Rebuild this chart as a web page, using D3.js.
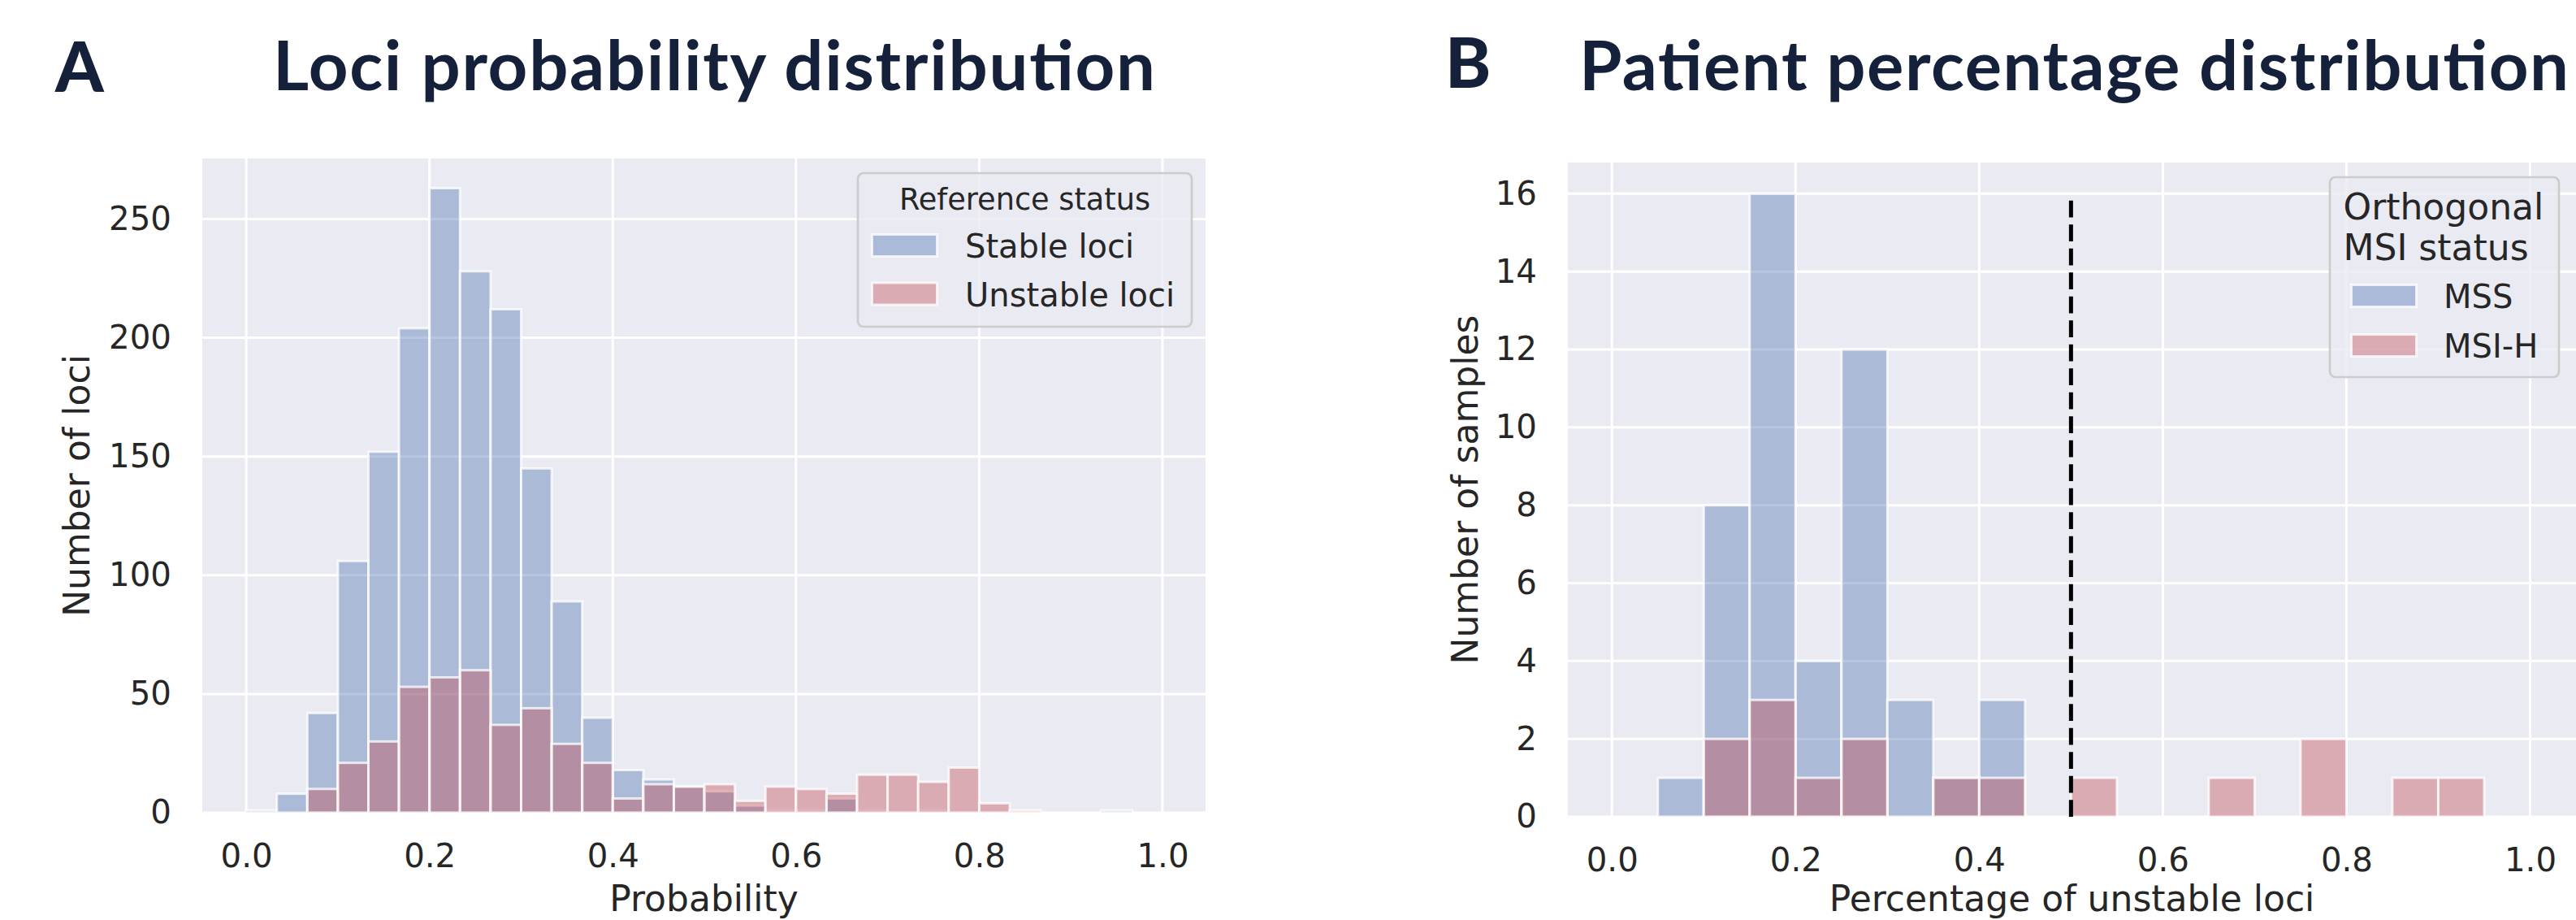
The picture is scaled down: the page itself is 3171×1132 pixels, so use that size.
<!DOCTYPE html>
<html>
<head>
<meta charset="utf-8">
<script src="https://cdn.jsdelivr.net/npm/d3@7"></script>
<style>
  body { margin: 0; background: #fff; }
  svg { display: block; }
</style>
</head>
<body>
<div id="chart"></div>
<script>
// loci histogram, 30 bins on [0, 1]
var lociBins = 30
var stableLoci = [1, 8, 42, 106, 152, 204, 263, 228, 212, 145, 89, 40, 18, 14, 11,
                  9, 3, 1, 1, 6, 1, 0, 1, 0, 0, 0, 0, 0, 1, 0]
var unstableLoci = [0, 0, 10, 21, 30, 53, 57, 60, 37, 44, 29, 21, 6, 12, 11,
                    12, 5, 11, 10, 8, 16, 16, 13, 19, 4, 1, 0, 0, 0, 0]

// patient histogram, 20 bins on [0, 1]
var patientBins = 20
var mssCounts  = [0, 1, 8, 16, 4, 12, 3, 1, 3, 0, 0, 0, 0, 0, 0, 0, 0, 0, 0, 0]
var msiHCounts = [0, 0, 2, 3, 1, 2, 0, 1, 1, 0, 1, 0, 0, 1, 0, 2, 0, 1, 1, 0]

var xTickValues = [0, 0.2, 0.4, 0.6, 0.8, 1.0]
var lociYTicks = [0, 50, 100, 150, 200, 250]
var sampleYTicks = [0, 2, 4, 6, 8, 10, 12, 14, 16]
var threshold = 0.5

var W = 3171, H = 1132
var bg = "#eaeaf2"
var blue = "#4c72b0", red = "#c44e52"
var ink = "#262626"
var tickFont = 40.3, labelFont = 44

var svg = d3.select("#chart").append("svg")
  .attr("width", W)
  .attr("height", H)
  .style("font-family", "'DejaVu Sans', sans-serif")

function toBins(counts, n) {
  return counts.map((c, i) => ({x0: i / n, x1: (i + 1) / n, count: c}))
}

function panel(opt) {
  var x = d3.scaleLinear().domain(opt.xDomain).range([opt.left, opt.right])
  var y = d3.scaleLinear().domain(opt.yDomain).range([opt.bottom, opt.top])
  var g = svg.append("g")

  g.append("rect")
    .attr("x", opt.left).attr("y", opt.top)
    .attr("width", opt.right - opt.left).attr("height", opt.bottom - opt.top)
    .attr("fill", bg)

  // grid
  g.append("g").selectAll("line").data(xTickValues).join("line")
    .attr("x1", d => x(d)).attr("x2", d => x(d))
    .attr("y1", opt.top).attr("y2", opt.bottom)
    .attr("stroke", "#fff").attr("stroke-width", 3)
  g.append("g").selectAll("line").data(opt.yTicks).join("line")
    .attr("x1", opt.left).attr("x2", opt.right)
    .attr("y1", d => y(d)).attr("y2", d => y(d))
    .attr("stroke", "#fff").attr("stroke-width", 3)

  // bars, first series under second
  opt.series.forEach(function(s) {
    g.append("g").selectAll("rect").data(toBins(s.counts, opt.bins)).join("rect")
      .attr("x", d => x(d.x0))
      .attr("width", d => x(d.x1) - x(d.x0))
      .attr("y", d => y(d.count))
      .attr("height", d => y(0) - y(d.count))
      .attr("fill", s.color).attr("fill-opacity", 0.4)
      .attr("stroke", "#fff").attr("stroke-opacity", 0.75).attr("stroke-width", 3)
  })

  // axes (labels only, seaborn darkgrid has no tick marks)
  var xAxis = g.append("g")
    .attr("transform", "translate(0," + opt.bottom + ")")
    .call(d3.axisBottom(x).tickValues(xTickValues).tickFormat(d3.format(".1f"))
      .tickSize(0).tickPadding(38.5))
  var yAxis = g.append("g")
    .attr("transform", "translate(" + opt.left + ",0)")
    .call(d3.axisLeft(y).tickValues(opt.yTicks).tickSize(0).tickPadding(38))
  ;[xAxis, yAxis].forEach(function(a) {
    a.select(".domain").remove()
    a.selectAll("text")
      .attr("font-family", "'DejaVu Sans', sans-serif")
      .attr("font-size", tickFont)
      .attr("fill", ink)
  })

  g.append("text")
    .attr("x", (opt.left + opt.right) / 2)
    .attr("y", H - 11)
    .attr("text-anchor", "middle")
    .attr("font-size", labelFont).attr("fill", ink)
    .text(opt.xLabel)

  g.append("text")
    .attr("transform", "translate(" + opt.yLabelX + "," + (opt.top + opt.bottom) / 2 + ") rotate(-90)")
    .attr("text-anchor", "middle")
    .attr("font-size", labelFont).attr("fill", ink)
    .text(opt.yLabel)

  return {g: g, x: x, y: y}
}

function legend(g, L) {
  g.append("rect")
    .attr("x", L.x).attr("y", L.y).attr("width", L.w).attr("height", L.h)
    .attr("rx", 7)
    .attr("fill", bg).attr("fill-opacity", 0.8)
    .attr("stroke", "#cccccc").attr("stroke-width", 2.7)

  L.title.forEach(function(t, i) {
    g.append("text")
      .attr("x", L.titleX).attr("y", L.titleY + i * L.titleStep)
      .attr("text-anchor", L.titleAnchor)
      .attr("font-size", L.titleSize).attr("fill", ink)
      .text(t)
  })

  L.items.forEach(function(it, i) {
    var yy = L.itemY + i * L.itemStep
    g.append("rect")
      .attr("x", L.patchX).attr("y", yy - 28.5)
      .attr("width", 80).attr("height", 27)
      .attr("fill", it.color).attr("fill-opacity", 0.4)
      .attr("stroke", "#fff").attr("stroke-opacity", 0.75).attr("stroke-width", 3)
    g.append("text")
      .attr("x", L.labelX).attr("y", yy)
      .attr("font-size", 40).attr("fill", ink)
      .text(it.label)
  })
}

// ---- panel A
var A = panel({
  left: 249, right: 1484, top: 195, bottom: 1000,
  xDomain: [-0.048, 1.047], yDomain: [0, 275.5],
  bins: lociBins, yTicks: lociYTicks,
  series: [{counts: stableLoci, color: blue}, {counts: unstableLoci, color: red}],
  xLabel: "Probability", yLabel: "Number of loci", yLabelX: 110
})
legend(A.g, {
  x: 1056, y: 213, w: 411, h: 189,
  title: ["Reference status"], titleX: 1261.5, titleY: 258, titleStep: 0,
  titleAnchor: "middle", titleSize: 36.7,
  patchX: 1073.5, labelX: 1188, itemY: 317, itemStep: 59.5,
  items: [{label: "Stable loci", color: blue}, {label: "Unstable loci", color: red}]
})

// ---- panel B
var B = panel({
  left: 1930, right: 3171, top: 200, bottom: 1005,
  xDomain: [-0.048, 1.05], yDomain: [0, 16.8],
  bins: patientBins, yTicks: sampleYTicks,
  series: [{counts: mssCounts, color: blue}, {counts: msiHCounts, color: red}],
  xLabel: "Percentage of unstable loci", yLabel: "Number of samples", yLabelX: 1819
})
B.g.append("line")
  .attr("x1", B.x(threshold)).attr("x2", B.x(threshold))
  .attr("y1", B.y(0)).attr("y2", B.y(16))
  .attr("stroke", "#000").attr("stroke-width", 5)
  .attr("stroke-dasharray", "20.7,8.8")
legend(B.g, {
  x: 2868, y: 218, w: 282, h: 246,
  title: ["Orthogonal", "MSI status"], titleX: 2884.5, titleY: 270, titleStep: 50,
  titleAnchor: "start", titleSize: 44,
  patchX: 2894.5, labelX: 3008, itemY: 379, itemStep: 61,
  items: [{label: "MSS", color: blue}, {label: "MSI-H", color: red}]
})

// ---- panel titles
var titleColor = "#15203a"
var heads = [
  {letter: "A", lx: 68, ly: 113, title: "Loci probability distribution", tx: 336, ty: 111, len: 1086},
  {letter: "B", lx: 1779, ly: 108, title: "Patient percentage distribution", tx: 1944, ty: 111, len: 1218}
]
heads.forEach(function(h) {
  svg.append("text")
    .attr("x", h.lx).attr("y", h.ly)
    .attr("font-family", "Lato, 'Open Sans', sans-serif")
    .attr("font-weight", 900).attr("font-size", 85)
    .attr("fill", titleColor)
    .text(h.letter)
  svg.append("text")
    .attr("x", h.tx).attr("y", h.ty)
    .attr("font-family", "Lato, 'Open Sans', sans-serif")
    .attr("font-weight", 700).attr("font-size", 85)
    .attr("fill", titleColor)
    .attr("textLength", h.len).attr("lengthAdjust", "spacing")
    .text(h.title)
})
</script>
</body>
</html>
